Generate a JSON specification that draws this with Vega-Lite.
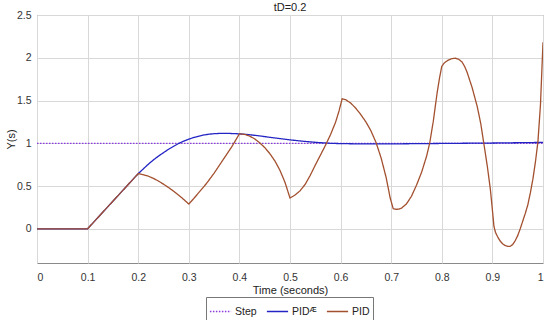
{
  "$schema": "https://vega.github.io/schema/vega-lite/v6.json",
  "width": 506,
  "height": 248,
  "autosize": {"type": "none"},
  "padding": {"left": 37, "top": 15, "right": 7, "bottom": 57},
  "background": "white",
  "title": {"text": "tD=0.2", "fontSize": 11, "fontWeight": "normal", "font": "Liberation Sans", "color": "#222", "offset": -3},
  "config": {
    "view": {"stroke": "#8a8a8a", "strokeWidth": 1},
    "axis": {
      "labelFont": "Liberation Sans",
      "labelFontSize": 10.5,
      "labelColor": "#333",
      "titleFont": "Liberation Sans",
      "titleFontSize": 11,
      "titleFontWeight": "normal",
      "titleColor": "#222",
      "gridColor": "#d8d8d8",
      "gridOpacity": 1,
      "domain": false,
      "ticks": false
    },
    "legend": {
      "labelFont": "Liberation Sans",
      "labelFontSize": 10.5,
      "labelColor": "#222"
    }
  },
  "data": {
    "values": [
      {"t": 0, "y": 1, "s": "Step"},
      {"t": 1, "y": 1, "s": "Step"},
      {"t": 0, "y": 0, "s": "PIDᴭ"},
      {"t": 0.1, "y": 0, "s": "PIDᴭ"},
      {"t": 0.2, "y": 0.645, "s": "PIDᴭ"},
      {"t": 0.21, "y": 0.7, "s": "PIDᴭ"},
      {"t": 0.22, "y": 0.755, "s": "PIDᴭ"},
      {"t": 0.23, "y": 0.805, "s": "PIDᴭ"},
      {"t": 0.24, "y": 0.85, "s": "PIDᴭ"},
      {"t": 0.25, "y": 0.89, "s": "PIDᴭ"},
      {"t": 0.26, "y": 0.93, "s": "PIDᴭ"},
      {"t": 0.27, "y": 0.965, "s": "PIDᴭ"},
      {"t": 0.28, "y": 0.998, "s": "PIDᴭ"},
      {"t": 0.29, "y": 1.025, "s": "PIDᴭ"},
      {"t": 0.3, "y": 1.048, "s": "PIDᴭ"},
      {"t": 0.31, "y": 1.068, "s": "PIDᴭ"},
      {"t": 0.32, "y": 1.084, "s": "PIDᴭ"},
      {"t": 0.33, "y": 1.097, "s": "PIDᴭ"},
      {"t": 0.34, "y": 1.106, "s": "PIDᴭ"},
      {"t": 0.35, "y": 1.112, "s": "PIDᴭ"},
      {"t": 0.36, "y": 1.115, "s": "PIDᴭ"},
      {"t": 0.37, "y": 1.116, "s": "PIDᴭ"},
      {"t": 0.38, "y": 1.115, "s": "PIDᴭ"},
      {"t": 0.39, "y": 1.113, "s": "PIDᴭ"},
      {"t": 0.4, "y": 1.11, "s": "PIDᴭ"},
      {"t": 0.42, "y": 1.1, "s": "PIDᴭ"},
      {"t": 0.44, "y": 1.086, "s": "PIDᴭ"},
      {"t": 0.46, "y": 1.07, "s": "PIDᴭ"},
      {"t": 0.48, "y": 1.055, "s": "PIDᴭ"},
      {"t": 0.5, "y": 1.04, "s": "PIDᴭ"},
      {"t": 0.52, "y": 1.027, "s": "PIDᴭ"},
      {"t": 0.54, "y": 1.016, "s": "PIDᴭ"},
      {"t": 0.56, "y": 1.007, "s": "PIDᴭ"},
      {"t": 0.58, "y": 1.0, "s": "PIDᴭ"},
      {"t": 0.6, "y": 0.996, "s": "PIDᴭ"},
      {"t": 0.65, "y": 0.992, "s": "PIDᴭ"},
      {"t": 0.7, "y": 0.993, "s": "PIDᴭ"},
      {"t": 0.8, "y": 0.998, "s": "PIDᴭ"},
      {"t": 0.9, "y": 1.003, "s": "PIDᴭ"},
      {"t": 1.0, "y": 1.01, "s": "PIDᴭ"},
      {"t": 0, "y": 0, "s": "PID"},
      {"t": 0.1, "y": 0, "s": "PID"},
      {"t": 0.2, "y": 0.645, "s": "PID"},
      {"t": 0.21, "y": 0.633, "s": "PID"},
      {"t": 0.22, "y": 0.615, "s": "PID"},
      {"t": 0.23, "y": 0.59, "s": "PID"},
      {"t": 0.24, "y": 0.558, "s": "PID"},
      {"t": 0.25, "y": 0.522, "s": "PID"},
      {"t": 0.26, "y": 0.482, "s": "PID"},
      {"t": 0.27, "y": 0.44, "s": "PID"},
      {"t": 0.28, "y": 0.393, "s": "PID"},
      {"t": 0.29, "y": 0.343, "s": "PID"},
      {"t": 0.3, "y": 0.29, "s": "PID"},
      {"t": 0.31, "y": 0.355, "s": "PID"},
      {"t": 0.32, "y": 0.425, "s": "PID"},
      {"t": 0.335, "y": 0.53, "s": "PID"},
      {"t": 0.35, "y": 0.65, "s": "PID"},
      {"t": 0.368, "y": 0.81, "s": "PID"},
      {"t": 0.385, "y": 0.96, "s": "PID"},
      {"t": 0.4, "y": 1.11, "s": "PID"},
      {"t": 0.41, "y": 1.104, "s": "PID"},
      {"t": 0.42, "y": 1.085, "s": "PID"},
      {"t": 0.43, "y": 1.052, "s": "PID"},
      {"t": 0.44, "y": 1.006, "s": "PID"},
      {"t": 0.45, "y": 0.95, "s": "PID"},
      {"t": 0.46, "y": 0.88, "s": "PID"},
      {"t": 0.47, "y": 0.795, "s": "PID"},
      {"t": 0.48, "y": 0.685, "s": "PID"},
      {"t": 0.49, "y": 0.545, "s": "PID"},
      {"t": 0.5, "y": 0.36, "s": "PID"},
      {"t": 0.51, "y": 0.395, "s": "PID"},
      {"t": 0.52, "y": 0.445, "s": "PID"},
      {"t": 0.53, "y": 0.52, "s": "PID"},
      {"t": 0.54, "y": 0.625, "s": "PID"},
      {"t": 0.55, "y": 0.745, "s": "PID"},
      {"t": 0.56, "y": 0.86, "s": "PID"},
      {"t": 0.57, "y": 0.975, "s": "PID"},
      {"t": 0.58, "y": 1.1, "s": "PID"},
      {"t": 0.59, "y": 1.245, "s": "PID"},
      {"t": 0.597, "y": 1.38, "s": "PID"},
      {"t": 0.603, "y": 1.52, "s": "PID"},
      {"t": 0.61, "y": 1.51, "s": "PID"},
      {"t": 0.62, "y": 1.47, "s": "PID"},
      {"t": 0.63, "y": 1.41, "s": "PID"},
      {"t": 0.64, "y": 1.335, "s": "PID"},
      {"t": 0.65, "y": 1.25, "s": "PID"},
      {"t": 0.66, "y": 1.145, "s": "PID"},
      {"t": 0.67, "y": 1.01, "s": "PID"},
      {"t": 0.68, "y": 0.83, "s": "PID"},
      {"t": 0.69, "y": 0.6, "s": "PID"},
      {"t": 0.698, "y": 0.36, "s": "PID"},
      {"t": 0.704, "y": 0.235, "s": "PID"},
      {"t": 0.71, "y": 0.228, "s": "PID"},
      {"t": 0.715, "y": 0.23, "s": "PID"},
      {"t": 0.72, "y": 0.24, "s": "PID"},
      {"t": 0.73, "y": 0.29, "s": "PID"},
      {"t": 0.74, "y": 0.38, "s": "PID"},
      {"t": 0.75, "y": 0.51, "s": "PID"},
      {"t": 0.76, "y": 0.66, "s": "PID"},
      {"t": 0.77, "y": 0.85, "s": "PID"},
      {"t": 0.776, "y": 1.0, "s": "PID"},
      {"t": 0.783, "y": 1.25, "s": "PID"},
      {"t": 0.791, "y": 1.6, "s": "PID"},
      {"t": 0.796, "y": 1.78, "s": "PID"},
      {"t": 0.8, "y": 1.9, "s": "PID"},
      {"t": 0.805, "y": 1.94, "s": "PID"},
      {"t": 0.812, "y": 1.97, "s": "PID"},
      {"t": 0.82, "y": 1.99, "s": "PID"},
      {"t": 0.827, "y": 1.995, "s": "PID"},
      {"t": 0.834, "y": 1.98, "s": "PID"},
      {"t": 0.84, "y": 1.95, "s": "PID"},
      {"t": 0.845, "y": 1.9, "s": "PID"},
      {"t": 0.85, "y": 1.83, "s": "PID"},
      {"t": 0.86, "y": 1.65, "s": "PID"},
      {"t": 0.87, "y": 1.43, "s": "PID"},
      {"t": 0.877, "y": 1.23, "s": "PID"},
      {"t": 0.883, "y": 1.0, "s": "PID"},
      {"t": 0.89, "y": 0.73, "s": "PID"},
      {"t": 0.896, "y": 0.46, "s": "PID"},
      {"t": 0.9, "y": 0.22, "s": "PID"},
      {"t": 0.903, "y": 0.03, "s": "PID"},
      {"t": 0.906, "y": -0.04, "s": "PID"},
      {"t": 0.91, "y": -0.09, "s": "PID"},
      {"t": 0.915, "y": -0.14, "s": "PID"},
      {"t": 0.92, "y": -0.175, "s": "PID"},
      {"t": 0.925, "y": -0.195, "s": "PID"},
      {"t": 0.93, "y": -0.205, "s": "PID"},
      {"t": 0.935, "y": -0.205, "s": "PID"},
      {"t": 0.94, "y": -0.185, "s": "PID"},
      {"t": 0.945, "y": -0.14, "s": "PID"},
      {"t": 0.95, "y": -0.08, "s": "PID"},
      {"t": 0.955, "y": 0.0, "s": "PID"},
      {"t": 0.96, "y": 0.09, "s": "PID"},
      {"t": 0.965, "y": 0.18, "s": "PID"},
      {"t": 0.97, "y": 0.28, "s": "PID"},
      {"t": 0.975, "y": 0.42, "s": "PID"},
      {"t": 0.98, "y": 0.58, "s": "PID"},
      {"t": 0.985, "y": 0.78, "s": "PID"},
      {"t": 0.99, "y": 1.02, "s": "PID"},
      {"t": 0.995, "y": 1.45, "s": "PID"},
      {"t": 1.0, "y": 2.18, "s": "PID"}
    ]
  },
  "mark": {"type": "line", "strokeWidth": 1.3, "clip": true},
  "encoding": {
    "x": {
      "field": "t", "type": "quantitative",
      "scale": {"domain": [0, 1], "nice": false},
      "axis": {"values": [0, 0.1, 0.2, 0.3, 0.4, 0.5, 0.6, 0.7, 0.8, 0.9, 1], "format": "~g", "title": "Time (seconds)", "labelPadding": 9, "titlePadding": 2}
    },
    "y": {
      "field": "y", "type": "quantitative",
      "scale": {"domain": [-0.4, 2.5], "nice": false, "zero": false},
      "axis": {"values": [0, 0.5, 1, 1.5, 2, 2.5], "format": "~g", "title": "Y(s)", "labelPadding": 6, "titlePadding": 0}
    },
    "color": {
      "field": "s", "type": "nominal",
      "scale": {"domain": ["Step", "PIDᴭ", "PID"], "range": ["#8a3be0", "#2424c4", "#a3502f"]},
      "legend": {
        "title": null, "orient": "none", "legendX": 169, "legendY": 282,
        "direction": "horizontal", "strokeColor": "#777", "fillColor": "white",
        "padding": 3, "symbolType": "stroke", "symbolSize": 450, "symbolStrokeWidth": 1.5,
        "columnPadding": 6, "labelOffset": 3
      }
    },
    "strokeDash": {
      "field": "s", "type": "nominal",
      "scale": {"domain": ["Step", "PIDᴭ", "PID"], "range": [[1.5, 1.5], [1, 0], [1, 0]]},
      "legend": null
    },
    "order": {"field": "t", "type": "quantitative"}
  }
}
